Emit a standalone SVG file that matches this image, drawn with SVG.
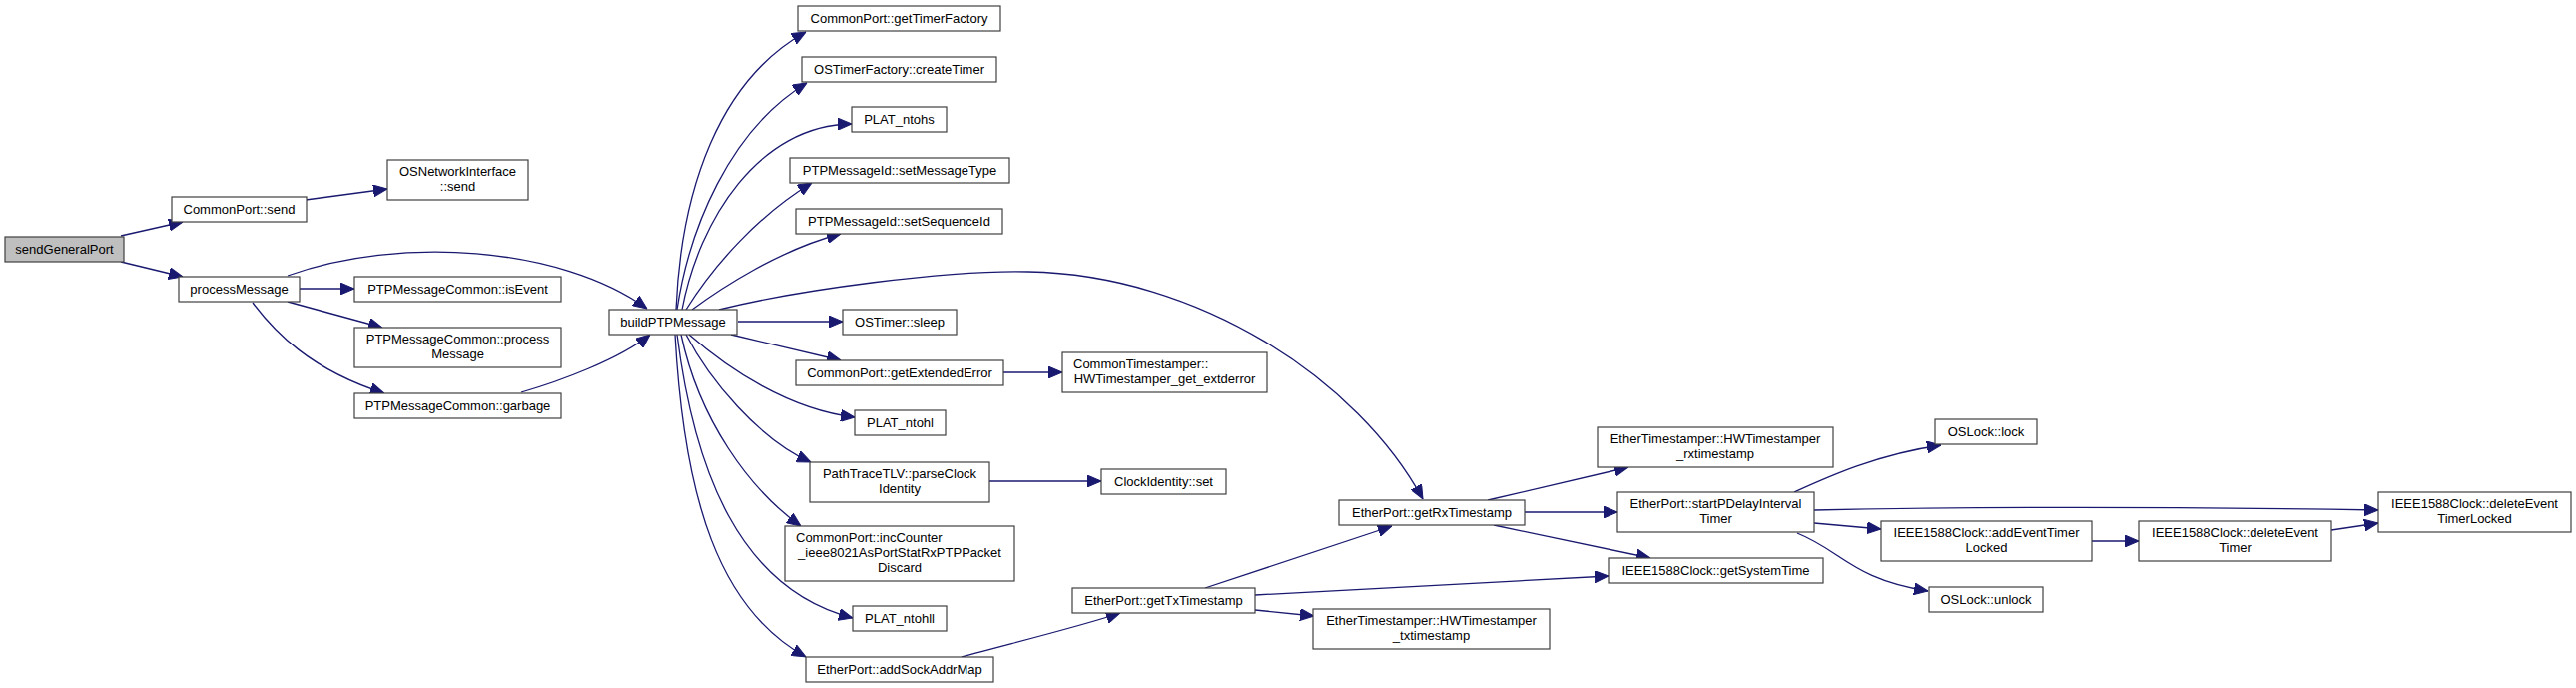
<svg xmlns="http://www.w3.org/2000/svg" width="2580" height="689" viewBox="0 0 2580 689">
<defs>
<style>
.n rect{fill:#ffffff;stroke:#404040;stroke-width:1.2}
.n.root rect{fill:#bfbfbf}
.n text{font-family:"Liberation Sans",Arial,Helvetica,sans-serif;font-size:13px;fill:#000000;text-anchor:middle}
.n text.l{text-anchor:start}
.e path{fill:none;stroke:#191970;stroke-width:1.3;marker-end:url(#ah)}
</style>
<marker id="ah" markerUnits="userSpaceOnUse" markerWidth="14" markerHeight="12" refX="14" refY="6" orient="auto">
<path d="M0,0 L14,6 L0,12 z" fill="#191970" stroke="#191970" stroke-width="1"/>
</marker>
</defs>
<rect width="2580" height="689" fill="#ffffff"/>
<g id="connectors" class="e">
<path d="M121,236 L183,222"/>
<path d="M121,262 L183,277"/>
<path d="M306,200 L388,189"/>
<path d="M300,289 L355,289"/>
<path d="M288,302 L383,328"/>
<path d="M253,303 C275,332 310,370 385,394"/>
<path d="M288,276 C400,236 560,246 648,309"/>
<path d="M522,393 C560,382 620,360 651,335"/>
<path d="M677,310 C682,190 720,80 807,32"/>
<path d="M678,310 C690,230 730,130 808,83"/>
<path d="M683,310 C700,220 760,125 853,124"/>
<path d="M687,310 C715,265 760,215 813,183"/>
<path d="M693,310 C720,290 780,250 842,234"/>
<path d="M720,310 C800,290 950,270 1030,272 C1200,275 1360,380 1425,500"/>
<path d="M739,322 L844,322"/>
<path d="M732,335 L842,361"/>
<path d="M690,335 C730,370 790,410 856,418"/>
<path d="M687,335 C710,380 760,440 812,463"/>
<path d="M682,335 C700,420 750,490 802,527"/>
<path d="M678,335 C695,470 740,590 854,619"/>
<path d="M676,335 C685,500 720,610 807,658"/>
<path d="M1005,373 L1064,373"/>
<path d="M991,482 L1103,482"/>
<path d="M963,658 C1010,645 1080,628 1122,614"/>
<path d="M1207,589 L1394,527"/>
<path d="M1257,596 L1611,577"/>
<path d="M1257,611 L1316,617"/>
<path d="M1490,501 L1631,468"/>
<path d="M1527,513 L1620,513"/>
<path d="M1496,526 L1653,559"/>
<path d="M1797,493 C1830,478 1880,455 1944,446"/>
<path d="M1817,511 C2000,507 2200,508 2382,511"/>
<path d="M1817,524 L1884,530"/>
<path d="M1800,534 C1845,552 1855,580 1931,592"/>
<path d="M2095,542 L2142,542"/>
<path d="M2335,531 L2382,524"/>
</g>
<g id="sendGeneralPort" class="n root"><rect x="5" y="237" width="119" height="25"/><text x="64.5" y="254">sendGeneralPort</text></g>
<g id="CommonPort_send" class="n"><rect x="172" y="197" width="135" height="25"/><text x="239.5" y="214">CommonPort::send</text></g>
<g id="OSNetworkInterface_send" class="n"><rect x="388" y="160" width="141" height="40"/><text x="458.5" y="176">OSNetworkInterface</text><text x="458.5" y="191">::send</text></g>
<g id="processMessage" class="n"><rect x="179" y="277" width="121" height="25"/><text x="239.5" y="294">processMessage</text></g>
<g id="PTPMessageCommon_isEvent" class="n"><rect x="355" y="277" width="207" height="25"/><text x="458.5" y="294">PTPMessageCommon::isEvent</text></g>
<g id="PTPMessageCommon_processMessage" class="n"><rect x="355" y="328" width="207" height="40"/><text x="458.5" y="344">PTPMessageCommon::process</text><text x="458.5" y="359">Message</text></g>
<g id="PTPMessageCommon_garbage" class="n"><rect x="355" y="394" width="207" height="25"/><text x="458.5" y="411">PTPMessageCommon::garbage</text></g>
<g id="buildPTPMessage" class="n"><rect x="610" y="310" width="128" height="25"/><text x="674" y="327">buildPTPMessage</text></g>
<g id="CommonPort_getTimerFactory" class="n"><rect x="799" y="6" width="203" height="25"/><text x="900.5" y="23">CommonPort::getTimerFactory</text></g>
<g id="OSTimerFactory_createTimer" class="n"><rect x="803" y="57" width="195" height="25"/><text x="900.5" y="74">OSTimerFactory::createTimer</text></g>
<g id="PLAT_ntohs" class="n"><rect x="853" y="107" width="95" height="25"/><text x="900.5" y="124">PLAT_ntohs</text></g>
<g id="PTPMessageId_setMessageType" class="n"><rect x="791" y="158" width="220" height="25"/><text x="901" y="175">PTPMessageId::setMessageType</text></g>
<g id="PTPMessageId_setSequenceId" class="n"><rect x="797" y="209" width="207" height="25"/><text x="900.5" y="226">PTPMessageId::setSequenceId</text></g>
<g id="OSTimer_sleep" class="n"><rect x="844" y="310" width="114" height="25"/><text x="901" y="327">OSTimer::sleep</text></g>
<g id="CommonPort_getExtendedError" class="n"><rect x="797" y="361" width="208" height="25"/><text x="901" y="378">CommonPort::getExtendedError</text></g>
<g id="PLAT_ntohl" class="n"><rect x="856" y="411" width="91" height="25"/><text x="901.5" y="428">PLAT_ntohl</text></g>
<g id="PathTraceTLV_parseClockIdentity" class="n"><rect x="811" y="463" width="180" height="40"/><text x="901" y="479">PathTraceTLV::parseClock</text><text x="901" y="494">Identity</text></g>
<g id="CommonPort_incCounter" class="n"><rect x="786" y="527" width="230" height="55"/><text class="l" x="797" y="543">CommonPort::incCounter</text><text x="901" y="558">_ieee8021AsPortStatRxPTPPacket</text><text x="901" y="573">Discard</text></g>
<g id="PLAT_ntohll" class="n"><rect x="854" y="607" width="94" height="25"/><text x="901" y="624">PLAT_ntohll</text></g>
<g id="EtherPort_addSockAddrMap" class="n"><rect x="807" y="658" width="188" height="25"/><text x="901" y="675">EtherPort::addSockAddrMap</text></g>
<g id="CommonTimestamper_HWTimestamper_get_extderror" class="n"><rect x="1064" y="353" width="205" height="40"/><text class="l" x="1075" y="369">CommonTimestamper::</text><text x="1166.5" y="384">HWTimestamper_get_extderror</text></g>
<g id="ClockIdentity_set" class="n"><rect x="1103" y="470" width="125" height="25"/><text x="1165.5" y="487">ClockIdentity::set</text></g>
<g id="EtherPort_getRxTimestamp" class="n"><rect x="1341" y="501" width="186" height="25"/><text x="1434" y="518">EtherPort::getRxTimestamp</text></g>
<g id="EtherPort_getTxTimestamp" class="n"><rect x="1074" y="589" width="183" height="25"/><text x="1165.5" y="606">EtherPort::getTxTimestamp</text></g>
<g id="EtherTimestamper_HWTimestamper_txtimestamp" class="n"><rect x="1315" y="610" width="237" height="40"/><text x="1433.5" y="626">EtherTimestamper::HWTimestamper</text><text x="1433.5" y="641">_txtimestamp</text></g>
<g id="EtherTimestamper_HWTimestamper_rxtimestamp" class="n"><rect x="1600" y="428" width="236" height="40"/><text x="1718" y="444">EtherTimestamper::HWTimestamper</text><text x="1718" y="459">_rxtimestamp</text></g>
<g id="OSLock_lock" class="n"><rect x="1938" y="420" width="102" height="25"/><text x="1989" y="437">OSLock::lock</text></g>
<g id="EtherPort_startPDelayIntervalTimer" class="n"><rect x="1620" y="493" width="197" height="40"/><text x="1718.5" y="509">EtherPort::startPDelayInterval</text><text x="1718.5" y="524">Timer</text></g>
<g id="IEEE1588Clock_deleteEventTimerLocked" class="n"><rect x="2382" y="493" width="193" height="40"/><text x="2478.5" y="509">IEEE1588Clock::deleteEvent</text><text x="2478.5" y="524">TimerLocked</text></g>
<g id="IEEE1588Clock_addEventTimerLocked" class="n"><rect x="1884" y="522" width="211" height="40"/><text x="1989.5" y="538">IEEE1588Clock::addEventTimer</text><text x="1989.5" y="553">Locked</text></g>
<g id="IEEE1588Clock_deleteEventTimer" class="n"><rect x="2142" y="522" width="193" height="40"/><text x="2238.5" y="538">IEEE1588Clock::deleteEvent</text><text x="2238.5" y="553">Timer</text></g>
<g id="IEEE1588Clock_getSystemTime" class="n"><rect x="1611" y="559" width="215" height="25"/><text x="1718.5" y="576">IEEE1588Clock::getSystemTime</text></g>
<g id="OSLock_unlock" class="n"><rect x="1932" y="588" width="114" height="25"/><text x="1989" y="605">OSLock::unlock</text></g>
</svg>
